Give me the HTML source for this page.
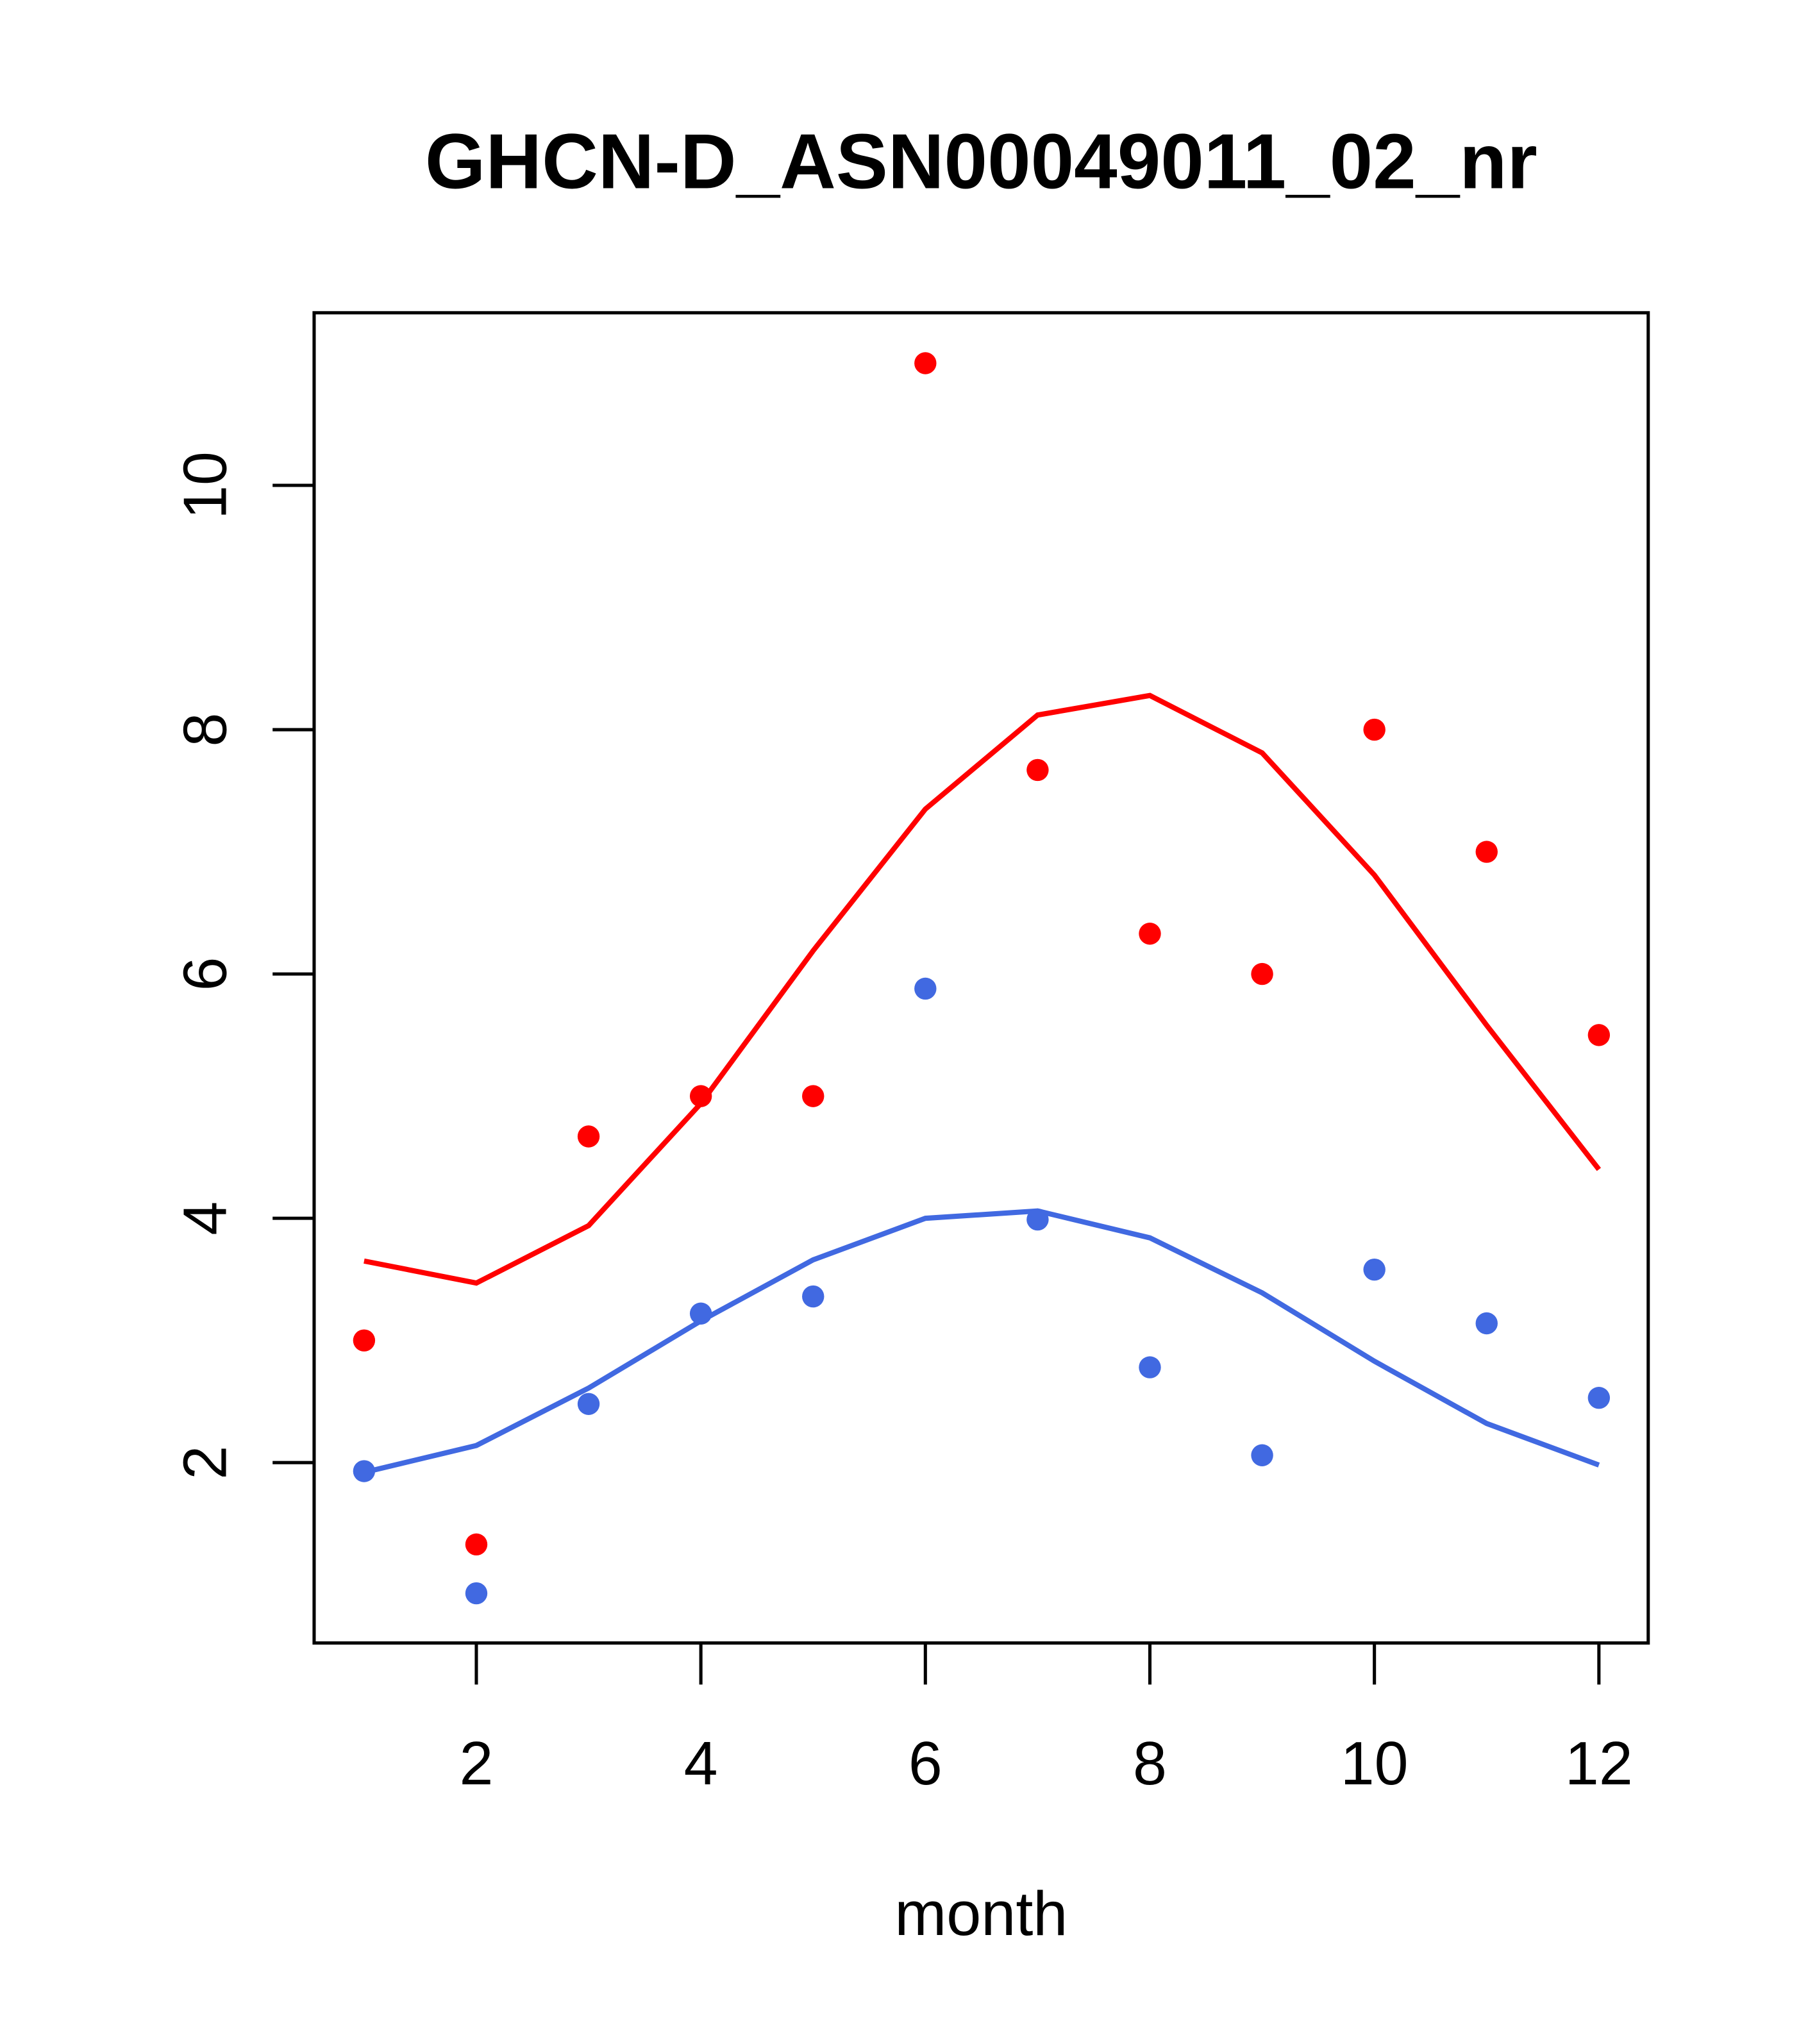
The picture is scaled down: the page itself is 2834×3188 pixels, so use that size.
<!DOCTYPE html>
<html><head><meta charset="utf-8"><style>html,body{margin:0;padding:0;background:#fff}svg{display:block}</style></head>
<body>
<svg width="2834" height="3188" viewBox="0 0 1400 1575" xmlns="http://www.w3.org/2000/svg" font-family="'Liberation Sans', sans-serif">
<rect width="1400" height="1575" fill="#fff"/>
<text x="756" y="145" text-anchor="middle" font-size="60" font-weight="bold">GHCN-D_ASN00049011_02_nr</text>
<rect x="242" y="241" width="1028" height="1025" fill="none" stroke="#000" stroke-width="2.5"/>
<text x="756" y="1491" text-anchor="middle" font-size="48">month</text>
<g id="xaxis"></g>
<g id="yaxis"></g>
<g id="series"></g>
</svg>
<script>
const months=[1,2,3,4,5,6,7,8,9,10,11,12];
const redPoints=[3.0,1.33,4.67,5.0,5.0,11.0,7.67,6.33,6.0,8.0,7.0,5.5];
const redLine=[3.65,3.47,3.94,4.94,6.19,7.35,8.12,8.28,7.81,6.81,5.58,4.40];
const bluePoints=[1.93,0.93,2.48,3.22,3.36,5.88,3.99,2.78,2.06,3.58,3.14,2.53];
const blueLine=[1.92,2.14,2.61,3.16,3.66,4.0,4.06,3.84,3.39,2.83,2.32,1.98];
const xTicks=[2,4,6,8,10,12];
const yTicks=[2,4,6,8,10];
const NS="http://www.w3.org/2000/svg";
const xs=m=>280.5+(m-1)*86.5;
const ys=v=>1127-(v-2)*94.125;
function mk(t,a,p){const e=document.createElementNS(NS,t);for(const k in a)e.setAttribute(k,a[k]);p.appendChild(e);return e;}
const xa=document.getElementById('xaxis'),ya=document.getElementById('yaxis'),sg=document.getElementById('series');
xTicks.forEach(t=>{
 const l=mk('line',{x1:xs(t),x2:xs(t),y1:1266,y2:1298,stroke:'#000','stroke-width':2.5},xa);
 
 
 const tx=mk('text',{x:xs(t),y:1375,'text-anchor':'middle','font-size':47},xa);
 tx.textContent=t;
 
 
});
yTicks.forEach(t=>{
 const l=mk('line',{x1:210,x2:242,y1:ys(t),y2:ys(t),stroke:'#000','stroke-width':2.5},ya);
 
 
 const tx=mk('text',{x:0,y:0,'text-anchor':'middle','font-size':47,transform:`translate(174,${ys(t)}) rotate(-90)`},ya);
 tx.textContent=t;
 
 
});
function line(vals,col,name){
 const p=mk('polyline',{points:vals.map((v,i)=>xs(months[i])+','+ys(v)).join(' '),fill:'none',stroke:col,'stroke-width':4},sg);
 
 
}
function pts(vals,col,name){
 vals.forEach((v,i)=>{
  const c=mk('circle',{cx:xs(months[i]),cy:ys(v),r:8.5,fill:col},sg);
  
  
 });
}
line(redLine,'#ff0000','red-line');
line(blueLine,'#4169e1','blue-line');
pts(redPoints,'#ff0000','red-point');
pts(bluePoints,'#4169e1','blue-point');
</script>
</body></html>
